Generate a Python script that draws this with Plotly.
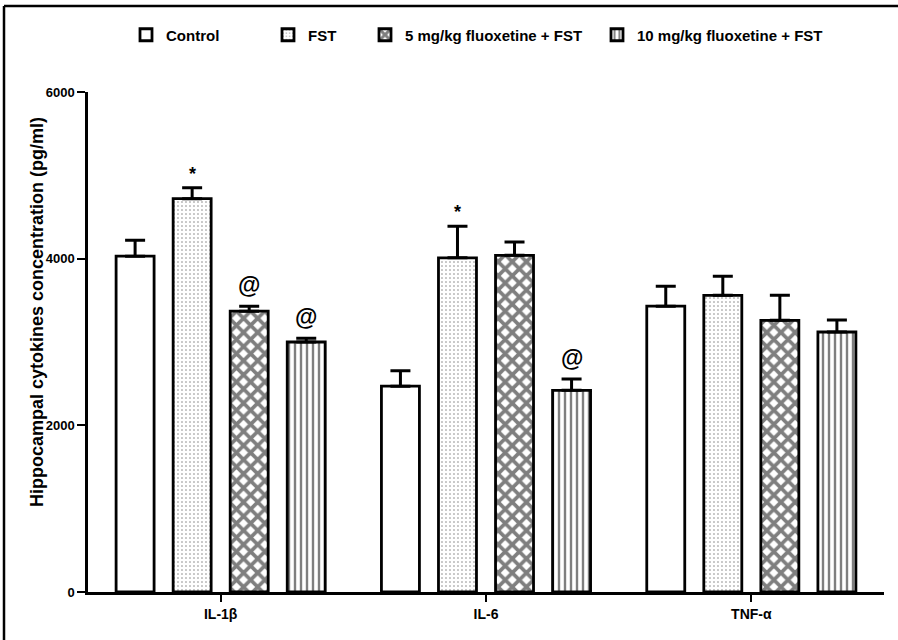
import plotly.graph_objects as go

# Cytokine levels in the hippocampus (pg/ml), mean and upper SEM
cytokines = ["IL-1β", "IL-6", "TNF-α"]
groups = ["Control", "FST", "5 mg/kg fluoxetine + FST", "10 mg/kg fluoxetine + FST"]
control_mean = [4030, 2470, 3430]
control_sem = [190, 185, 240]
fst_mean = [4720, 4010, 3560]
fst_sem = [130, 380, 230]
flx5_mean = [3370, 4040, 3260]
flx5_sem = [60, 160, 300]
flx10_mean = [3000, 2420, 3120]
flx10_sem = [45, 135, 145]

# significance marks: (group index, cytokine index, symbol)
sig_marks = [(1, 0, "*"), (1, 1, "*"), (2, 0, "@"), (3, 0, "@"), (3, 1, "@")]

y_ticks = [0, 2000, 4000, 6000]

means = [control_mean, fst_mean, flx5_mean, flx10_mean]
sems = [control_sem, fst_sem, flx5_sem, flx10_sem]
patterns = [
    dict(shape=""),
    dict(shape=".", fgcolor="black", bgcolor="white", size=4, solidity=0.12),
    dict(shape="x", fgcolor="black", bgcolor="white", size=10, solidity=0.6),
    dict(shape="|", fgcolor="black", bgcolor="white", size=6, solidity=0.4),
]

W, H = 898, 640
L, R, T, B = 88, 14, 92, 48
pw, ph = W - L - R, H - T - B

sans = "Liberation Sans, Arial"

fig = go.Figure()
legend_text_x = [166, 308, 405, 637]
legend_names = ["legend", "legend2", "legend3", "legend4"]
for i, g in enumerate(groups):
    fig.add_trace(go.Bar(
        name=g,
        x=cytokines,
        y=means[i],
        marker=dict(color="white", line=dict(color="black", width=2.8), pattern=patterns[i]),
        error_y=dict(type="data", array=sems[i], arrayminus=[0] * len(cytokines),
                     symmetric=False, color="black", thickness=3, width=10),
        legend=legend_names[i],
        showlegend=True,
    ))

legend_layout = {}
for i, name in enumerate(legend_names):
    legend_layout[name] = dict(
        x=(legend_text_x[i] - 40 - L) / pw, xanchor="left",
        y=(H - B - 35) / ph, yanchor="middle",
        orientation="h", bgcolor="rgba(0,0,0,0)", visible=True,
        font=dict(family=sans, size=15, color="black", weight="bold"),
    )

# bar slot geometry for placing the marks above error bars
n = len(groups)
bargap, bargroupgap = 0.14, 0.334
cat_px = pw / len(cytokines)
slot_px = cat_px * (1 - bargap) / n
annotations = []
for gi, ci, sym in sig_marks:
    off = (gi - (n - 1) / 2) * slot_px
    top = means[gi][ci] + sems[gi][ci]
    annotations.append(dict(
        x=ci, y=top, xref="x", yref="y", text=sym, showarrow=False,
        xshift=off, yanchor="bottom",
        yshift=2 if sym == "*" else 6,
        font=dict(family=sans, size=18 if sym == "*" else 23,
                  color="black", weight="bold"),
    ))

# y-axis title
annotations.append(dict(
    x=(37 - L) / pw, y=(H - B - 312) / ph, xref="paper", yref="paper",
    text="Hippocampal cytokines concentration (pg/ml)", showarrow=False,
    textangle=-90, xanchor="center", yanchor="middle",
    font=dict(family=sans, size=18, color="black", weight="bold"),
))

# outer frame lines (top and left)
shapes = [
    dict(type="line", xref="paper", yref="paper",
         x0=(4 - L) / pw, x1=(W + 5 - L) / pw, y0=(H - B - 6) / ph, y1=(H - B - 6) / ph,
         line=dict(color="black", width=2.5)),
    dict(type="line", xref="paper", yref="paper",
         x0=(4 - L) / pw, x1=(4 - L) / pw, y0=(H - B - 6) / ph, y1=(H - B - H - 5) / ph,
         line=dict(color="black", width=2.5)),
]

fig.update_layout(
    width=W, height=H,
    margin=dict(l=L, r=R, t=T, b=B, autoexpand=False),
    paper_bgcolor="white", plot_bgcolor="white",
    showlegend=True,
    barmode="group", bargap=bargap, bargroupgap=bargroupgap,
    annotations=annotations, shapes=shapes,
    **legend_layout,
)
fig.update_xaxes(
    type="category", range=[-0.5, 2.5], showline=True, linecolor="black", linewidth=2.5,
    ticks="outside", ticklen=7, tickwidth=2, tickcolor="black", showgrid=False,
    tickfont=dict(family=sans, size=14, color="black", weight="bold"),
    zeroline=False,
)
fig.update_yaxes(
    range=[0, 6000], tickvals=y_ticks, showline=True, linecolor="black", linewidth=2.5,
    ticks="outside", ticklen=8, tickwidth=2, tickcolor="black", showgrid=False,
    tickfont=dict(family=sans, size=13, color="black", weight="bold"),
    ticklabelstandoff=0,
    zeroline=False,
)

fig.write_html("out.html")
